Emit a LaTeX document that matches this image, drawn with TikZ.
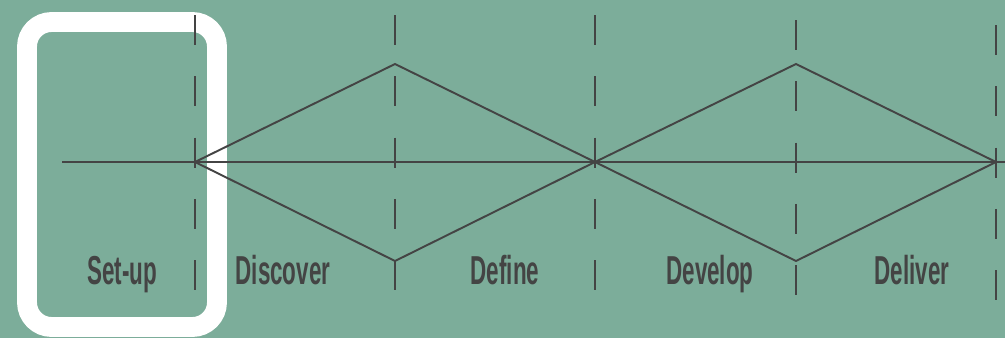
\documentclass[tikz,border=0pt]{standalone}
\usepackage{fontspec}
\setmainfont{Liberation Sans}
\usetikzlibrary{positioning}
\definecolor{bggreen}{HTML}{7CAD9A}
\definecolor{ink}{HTML}{444444}
\newcommand{\narrow}[1]{\scalebox{0.555}[1]{#1}}

\begin{document}
\begin{tikzpicture}[x=0.02cm,y=-0.02cm,
  phase/.style={text=ink,font=\fontsize{23}{25}\selectfont\bfseries,anchor=base,inner sep=0pt},
  divider/.style={draw=ink,line width=1.2pt,dash pattern=on 17pt off 17.9pt},
  flow/.style={draw=ink,line width=1.1pt}]
\fill[bggreen] (0,0) rectangle (1005,338);
\useasboundingbox (0,0) rectangle (1005,338);
% set-up frame
\draw[white,line width=11.3pt,rounded corners=14pt] (27,22) rectangle (217,327);
% phase dividers
\foreach \x/\o in {195/15,395/15,595/15,796/20,996/25}
  \draw[divider] (\x,\o) -- ++(0,278);
% double diamond
\coordinate (start) at (62,162);
\coordinate (s) at (195,162);
\coordinate (t1) at (395,64);
\coordinate (b1) at (395,261);
\coordinate (m) at (595,162);
\coordinate (t2) at (796,64);
\coordinate (b2) at (796,261);
\coordinate (e) at (996,162);
\coordinate (edge) at (1005,162);
\draw[flow] (start)--(edge);
\draw[flow] (s)--(t1)--(m)--(t2)--(e)--(b2)--(m)--(b1)--cycle;
% labels
\node[phase] (setup) at (122,284) {\narrow{Set-up}};
\node[phase] (discover) at (283,284) {\narrow{Discover}};
\node[phase] (define) at (505,284) {\narrow{Define}};
\node[phase] (develop) at (710,284) {\narrow{Develop}};
\node[phase] (deliver) at (912,284) {\narrow{Deliver}};
\end{tikzpicture}
\end{document}
